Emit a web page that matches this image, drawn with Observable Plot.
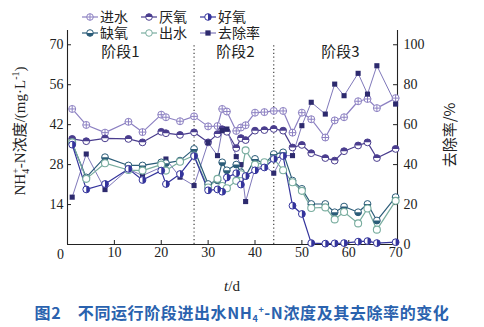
<!DOCTYPE html>
<html><head><meta charset="utf-8">
<script src="https://cdn.jsdelivr.net/npm/d3@7"></script>
<script src="https://cdn.jsdelivr.net/npm/@observablehq/plot@0.6"></script>
<style>
body{margin:0;background:#fff;}
#wrap{position:relative;width:484px;height:327px;overflow:hidden;background:#fff;}
#caption{position:absolute;left:0;top:297px;width:484px;height:30px;line-height:30px;text-align:center;color:#2a62ae;font-family:"Noto Sans CJK SC",sans-serif;font-weight:bold;font-size:16px;letter-spacing:0.6px;white-space:nowrap;}
#caption .s{font-size:9px;position:relative;}
</style></head>
<body><div id="wrap"><div id="chart"></div>
<div id="caption">图2&#12288;不同运行阶段进出水NH<span class="s" style="top:3px">4</span><span class="s" style="top:-6px">+</span>-N浓度及其去除率的变化</div></div>
<script>
const days      = [1,4,8,13,16,20,21,24,27,30,32,33,34,36,37,38,40,42,44,46,48,50,52,55,57,59,62,64,66,70];
const influent  = [47.5,41.9,39.2,43.0,39.4,45.5,44.6,43.2,44.9,41.4,41.5,47.5,46.6,39.8,41.0,41.8,46.2,46.4,46.8,46.8,39.2,46.2,43.9,37.5,43.5,44.6,50.2,51.0,47.8,51.3];
const anaerobic = [37.0,36.2,37.2,37.0,35.8,39.5,39.0,38.4,39.3,35.8,38.7,40.4,39.5,33.8,37.3,36.6,39.9,40.1,40.5,39.9,34.0,34.9,32.0,30.3,29.4,32.7,34.7,35.8,30.3,33.5];
const aerobic   = [35.0,19.3,21.2,26.5,22.6,25.9,21.2,24.7,31.0,19.0,19.3,18.5,23.5,25.0,21.0,24.0,26.0,27.0,30.0,31.0,13.6,10.7,0.5,0.3,0.4,0.5,1.0,1.2,0.5,0.8];
const anoxic    = [35.5,23.5,30.6,27.7,27.7,28.8,28.5,29.4,33.5,21.2,22.5,28.8,26.0,28.0,25.3,24.0,30.0,28.2,31.7,32.3,22.4,19.5,14.2,14.2,11.3,13.3,11.3,14.2,8.4,16.6];
const effluent  = [35.8,23.0,28.5,26.1,25.9,28.0,25.9,29.0,31.2,20.0,23.0,20.5,19.7,22.3,24.6,33.0,28.0,28.8,30.1,26.0,21.8,18.8,12.8,13.0,8.8,11.4,7.4,12.6,5.2,15.3];
const removal   = [23.7,45.3,27.5,37.8,34.5,38.7,42.8,33.7,29.5,51.0,44.5,57.0,57.8,44.0,40.0,21.5,38.0,39.5,35.7,44.5,44.5,59.5,71.2,65.3,80.3,74.5,85.7,75.3,89.5,70.3];
const seriesNames = ["进水","厌氧","好氧","缺氧","出水","去除率"];
const stageLabels = ["阶段1","阶段2","阶段3"];
const stageBounds = [27,44];
const yTicks = [14,28,42,56,70];
const xTicks = [10,20,30,40,50,60,70];
const rTicks = [0,20,40,60,80,100];
const R = 0.7; // 100 % on the right axis == 70 mg/L on the left axis

const colors = {"进水":"#8c80c2","厌氧":"#4a3d8e","好氧":"#34349c","缺氧":"#2b5c78","出水":"#79ad9f","去除率":"#2d2a6e"};
const lineColors = {...colors, "去除率":"#7f78ba"};

const rad = s => Math.sqrt(s/Math.PI);
const circleCross = {draw(c,s){const r=rad(s);c.moveTo(r,0);c.arc(0,0,r,0,2*Math.PI);c.moveTo(-r,0);c.lineTo(r,0);c.moveTo(0,-r);c.lineTo(0,r);}};
const halfTop = {draw(c,s){const r=rad(s);c.moveTo(r,0);c.arc(0,0,r,0,Math.PI,true);c.closePath();}};
const halfBottom = {draw(c,s){const r=rad(s);c.moveTo(r,0);c.arc(0,0,r,0,Math.PI,false);c.closePath();}};
const halfRight = {draw(c,s){const r=rad(s);c.moveTo(0,-r);c.arc(0,0,r,-Math.PI/2,Math.PI/2,false);c.closePath();}};
const squareSym = {draw(c,s){const h=Math.sqrt(s)*0.45;c.rect(-h,-h,2*h,2*h);}};

const valuesBy = {"进水":influent,"厌氧":anaerobic,"好氧":aerobic,"缺氧":anoxic,"出水":effluent,"去除率":removal};
const rows = name => days.map((d,i)=>({d, v: name==="去除率" ? valuesBy[name][i]*R : valuesBy[name][i]}));
const half = {"厌氧":halfTop,"好氧":halfRight,"缺氧":halfBottom};

const marks = [];
marks.push(Plot.ruleX([0,70.4],{y1:0,y2:75,stroke:"#222",strokeWidth:1.1}));
marks.push(Plot.ruleY([0],{stroke:"#222",strokeWidth:1.1}));
marks.push(Plot.ruleY(yTicks,{x1:0,x2:0.85,stroke:"#222"}));
marks.push(Plot.ruleY(rTicks.map(p=>p*R),{x1:70.4-0.85,x2:70.4,stroke:"#222"}));
marks.push(Plot.ruleX(xTicks,{y1:0,y2:1.4,stroke:"#222"}));
marks.push(Plot.ruleX(stageBounds,{y1:0,y2:70.5,stroke:"#333",strokeWidth:1.1,strokeDasharray:"1.2,2.6"}));
marks.push(Plot.text(stageLabels,{x:[11.3,35.8,58.2],y:67.3,text:d=>d,fontSize:15,fill:"#222",fontFamily:"Noto Sans CJK SC"}));

const order = ["进水","厌氧","去除率","缺氧","出水","好氧"];
for (const name of order) {
  marks.push(Plot.line(rows(name),{x:"d",y:"v",stroke:lineColors[name],strokeWidth:name==="去除率"?1:1.2}));
}
for (const name of order) {
  const data = rows(name);
  const col = colors[name];
  if (name==="去除率") {
    marks.push(Plot.dot(data,{x:"d",y:"v",symbol:squareSym,r:3.2,fill:col,stroke:"none"}));
  } else if (name==="进水") {
    marks.push(Plot.dot(data,{x:"d",y:"v",symbol:circleCross,r:3.5,fill:"white",stroke:col,strokeWidth:1}));
  } else if (name==="出水") {
    marks.push(Plot.dot(data,{x:"d",y:"v",symbol:"circle",r:3.5,fill:"white",stroke:col,strokeWidth:1.1}));
  } else {
    marks.push(Plot.dot(data,{x:"d",y:"v",symbol:"circle",r:3.4,fill:"white",stroke:col,strokeWidth:1}));
    marks.push(Plot.dot(data,{x:"d",y:"v",symbol:half[name],r:3.4,fill:col,stroke:"none"}));
  }
}
marks.push(Plot.axisY(yTicks,{anchor:"left",tickSize:0,tickPadding:4,fontSize:14,label:null}));
marks.push(Plot.axisY(rTicks.map(p=>p*R),{anchor:"right",tickSize:0,tickPadding:6,fontSize:14,label:null,tickFormat:v=>String(Math.round(v/R))}));
marks.push(Plot.axisX(xTicks,{anchor:"bottom",tickSize:0,tickPadding:3,fontSize:14,label:null}));
marks.push(Plot.text([0],{x:d=>d,y:0,text:d=>String(d),dx:-7,dy:10,fontSize:14,lineAnchor:"middle"}));

const chart = Plot.plot({
  width:484, height:295,
  marginLeft:67, marginRight:87, marginTop:30, marginBottom:51,
  x:{domain:[0,70.4]}, y:{domain:[0,75]},
  style:{fontFamily:"'Liberation Serif','Noto Sans CJK SC',serif",fontSize:"14px",color:"#222",background:"white"},
  marks
});
document.getElementById("chart").appendChild(chart);

const svg = d3.select(chart);
const lt = svg.append("text").attr("transform","translate(25,131) rotate(-90)").attr("text-anchor","middle")
  .attr("font-size",15).attr("fill","#222").attr("font-family","'Liberation Serif','Noto Sans CJK SC',serif");
lt.append("tspan").text("NH");
lt.append("tspan").attr("font-size",10).attr("dy",4).text("4");
lt.append("tspan").attr("font-size",10).attr("dx",-5).attr("dy",-10).text("+");
lt.append("tspan").attr("dy",6).text("-N浓度/(mg·L");
lt.append("tspan").attr("font-size",10).attr("dy",-6).text("-1");
lt.append("tspan").attr("dy",6).text(")");
svg.append("text").attr("transform","translate(455,135) rotate(-90)").attr("text-anchor","middle")
  .attr("font-size",15).attr("fill","#222").attr("font-family","'Noto Sans CJK SC','Liberation Serif',sans-serif").text("去除率/%");
const xt = svg.append("text").attr("x",232).attr("y",291).attr("text-anchor","middle").attr("font-size",15).attr("fill","#222");
xt.append("tspan").attr("font-style","italic").text("t");
xt.append("tspan").text("/d");
const legPos = [[90,17],[149,17],[208,17],[90,33],[149,33],[208,33]];
seriesNames.forEach((name,i)=>{
  const [cx,cy] = legPos[i];
  const g = svg.append("g").attr("transform",`translate(${cx},${cy})`);
  g.append("line").attr("x1",-8).attr("x2",8).attr("stroke",lineColors[name]).attr("stroke-width",1.2);
  const col = colors[name];
  const s = Math.PI*3.3*3.3;
  if (name==="去除率") {
    g.append("path").attr("d",d3.symbol(squareSym,s)()).attr("fill",col);
  } else if (name==="进水") {
    g.append("path").attr("d",d3.symbol(circleCross,s)()).attr("fill","white").attr("stroke",col);
  } else {
    g.append("path").attr("d",d3.symbol(d3.symbolCircle,s)()).attr("fill","white").attr("stroke",col);
    if (half[name]) g.append("path").attr("d",d3.symbol(half[name],s)()).attr("fill",col);
  }
  g.append("text").attr("x",10).attr("dy","0.36em").attr("text-anchor","start").attr("font-size",14).attr("fill","#222")
    .attr("font-family","'Liberation Serif','Noto Sans CJK SC',serif").text(name);
});
</script></body></html>
